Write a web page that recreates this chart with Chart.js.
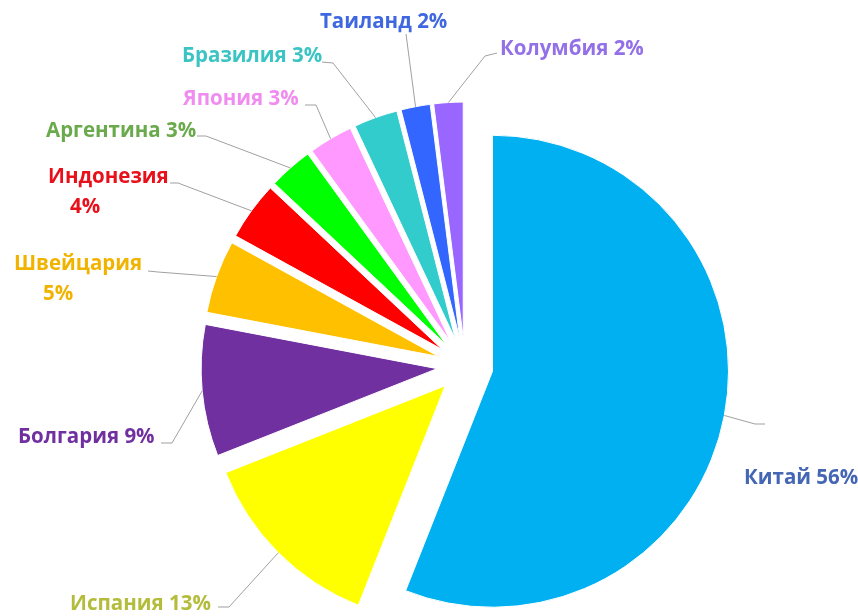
<!DOCTYPE html>
<html>
<head>
<meta charset="utf-8">
<script src="https://cdn.jsdelivr.net/npm/chart.js@4.4.1/dist/chart.umd.min.js"></script>
<style>
    html, body { margin: 0; padding: 0; background: #fff; }
    #wrap { width: 858px; height: 616px; }
</style>
</head>
<body>
<div id="wrap"><canvas id="pieChart"></canvas></div>
<script>
const countries = ['Китай', 'Испания', 'Болгария', 'Швейцария', 'Индонезия', 'Аргентина', 'Япония', 'Бразилия', 'Таиланд', 'Колумбия'];
const shares = [56, 13, 9, 5, 4, 3, 3, 3, 2, 2];
const sliceColors = ['#00b0f0', '#ffff00', '#7030a0', '#ffc000', '#ff0000', '#00ff00', '#ff99ff', '#33cccc', '#3366ff', '#9966ff'];
const labelColors = ['#4466b4', '#b4bc3c', '#7030a0', '#f0b400', '#e8101a', '#6aaa4c', '#f08cf0', '#3cc4c4', '#3f67e0', '#9370e8'];

// label placement: text left/baseline (x2/y2 for a wrapped percent), leader elbow, leader end next to text
const labelLayout = [
    { x: 744, y: 484, elbow: [755, 424], end: [765, 424] },
    { x: 70, y: 610, elbow: [229, 607], end: [218, 607] },
    { x: 18, y: 443, elbow: [172, 443], end: [161, 443] },
    { x: 14, y: 270, x2: 43, y2: 300, elbow: [158, 272], end: [148, 271] },
    { x: 48, y: 183, x2: 70, y2: 213, elbow: [178, 183], end: [170, 183] },
    { x: 46, y: 137, elbow: [206, 136], end: [197, 136] },
    { x: 183, y: 105, elbow: [316, 105], end: [305, 105] },
    { x: 182, y: 62, elbow: [333, 63], end: [322, 62] },
    { x: 320, y: 28, elbow: [406, 34], end: [406, 34] },
    { x: 500, y: 55, elbow: [485, 56], end: [497, 53] }
];

const EXPLODE = 28;

// push every slice out along its bisector by the same distance
const explode = {
    id: 'explode',
    afterDatasetUpdate(chart, args) {
        args.meta.data.forEach(arc => {
            const mid = (arc.startAngle + arc.endAngle) / 2;
            arc.x += Math.cos(mid) * EXPLODE;
            arc.y += Math.sin(mid) * EXPLODE;
        });
    }
};

const leaderLabels = {
    id: 'leaderLabels',
    afterDatasetsDraw(chart) {
        const ctx = chart.ctx;
        const meta = chart.getDatasetMeta(0);
        ctx.save();
        ctx.font = 'bold 20.5px "Open Sans"';
        ctx.textBaseline = 'alphabetic';
        ctx.textAlign = 'left';
        meta.data.forEach((arc, i) => {
            const mid = (arc.startAngle + arc.endAngle) / 2;
            const ax = arc.x + Math.cos(mid) * arc.outerRadius;
            const ay = arc.y + Math.sin(mid) * arc.outerRadius;
            const lay = labelLayout[i];

            ctx.strokeStyle = '#a0a0a0';
            ctx.lineWidth = 1;
            ctx.beginPath();
            ctx.moveTo(ax, ay);
            ctx.lineTo(lay.elbow[0], lay.elbow[1]);
            ctx.lineTo(lay.end[0], lay.end[1]);
            ctx.stroke();

            ctx.fillStyle = labelColors[i];
            if (lay.x2 !== undefined) {
                ctx.fillText(countries[i], lay.x, lay.y);
                ctx.fillText(shares[i] + '%', lay.x2, lay.y2);
            } else {
                ctx.fillText(countries[i] + ' ' + shares[i] + '%', lay.x, lay.y);
            }
        });
        ctx.restore();
    }
};

ctx = document.getElementById('pieChart').getContext('2d');
chart = new Chart(ctx, {
    type: 'pie',
    data: {
        labels: countries,
        datasets: [{
            data: shares,
            backgroundColor: sliceColors,
            borderColor: '#ffffff',
            borderWidth: 1
        }]
    },
    options: {
        responsive: true,
        maintainAspectRatio: false,
        animation: false,
        radius: 236,
        layout: {
            padding: { left: 72, top: 116, right: 0, bottom: 0 }
        },
        plugins: {
            legend: { display: false },
            tooltip: { enabled: false }
        }
    },
    plugins: [explode, leaderLabels]
});
</script>
</body>
</html>
